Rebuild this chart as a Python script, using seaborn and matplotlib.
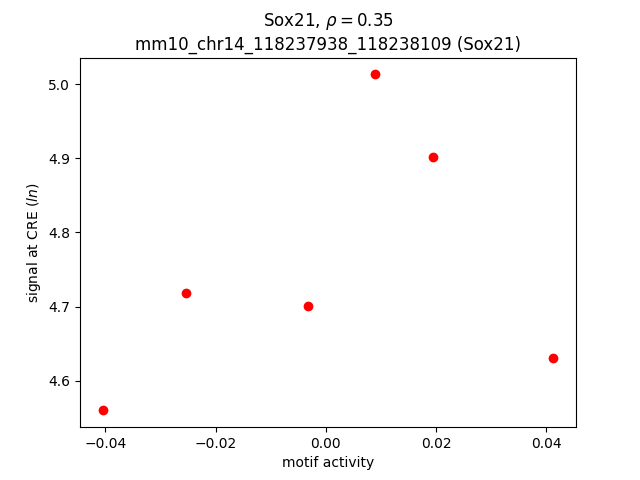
import seaborn as sb
import matplotlib
matplotlib.use("Agg")
import matplotlib.pyplot as plt
from matplotlib.ticker import MultipleLocator
import pandas as pd

#### values
motif_activity = [-0.0405, -0.0254, -0.0033, 0.0090, 0.0195, 0.0413]
cre_signal = [4.560, 4.718, 4.701, 5.013, 4.902, 4.630]

gene = "Sox21"
rho = 0.35
cre_name = "mm10_chr14_118237938_118238109 (Sox21)"

df = pd.DataFrame({"motif activity": motif_activity, "signal": cre_signal})

fig = plt.figure(figsize=(6.4, 4.8), dpi=100)
ax = fig.add_subplot(111)

sb.scatterplot(data=df, x="motif activity", y="signal", ax=ax,
               color="red", edgecolor="red", linewidth=1, s=36)

ax.xaxis.set_major_locator(MultipleLocator(0.02))
ax.set_xlabel("motif activity")
ax.set_ylabel("signal at CRE ($ln$)")
ax.set_title(gene + r", $\rho = $" + str(rho) + "\n" + cre_name)

fig.savefig("out.png", dpi=100)
